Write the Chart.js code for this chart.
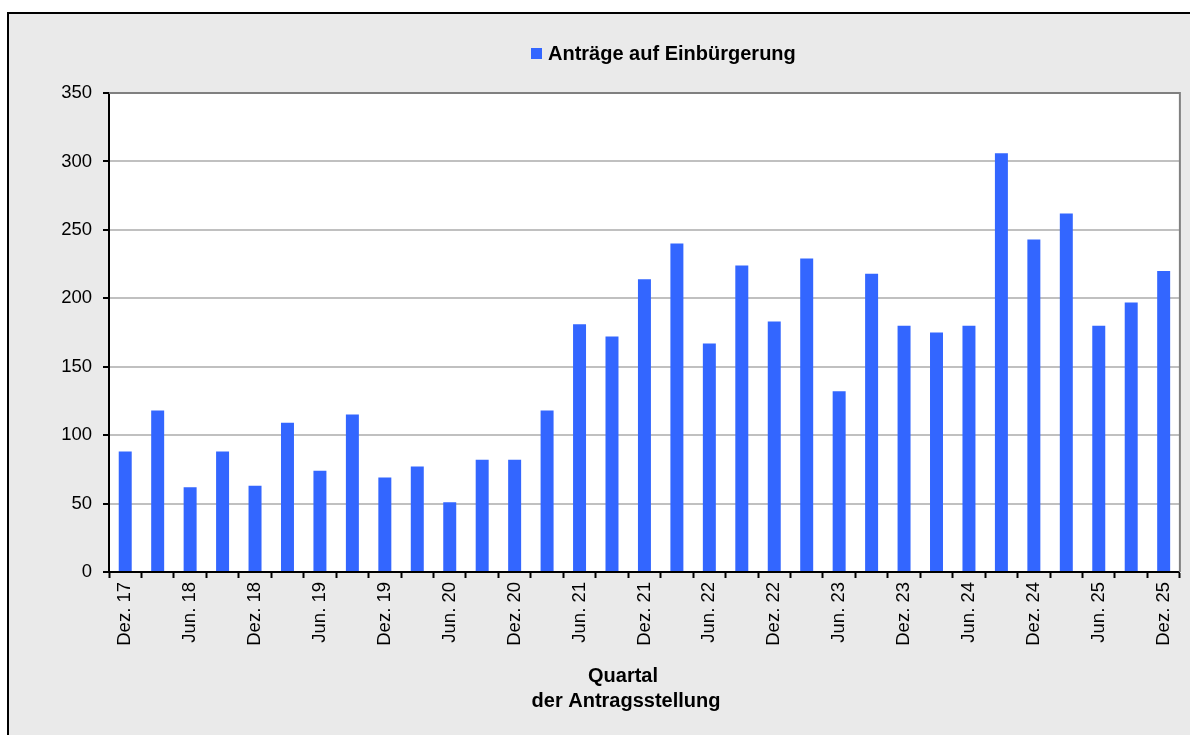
<!DOCTYPE html>
<html>
<head>
<meta charset="utf-8">
<script src="https://cdn.jsdelivr.net/npm/chart.js@4"></script>
<style>
html, body { margin: 0; padding: 0; background: #fff; overflow: hidden; }
#frame { position: absolute; left: 7px; top: 12px; width: 1181px; height: 721px; border: 2px solid #000; background: #eaeaea; }
</style>
</head>
<body>
<div id="frame"><canvas id="chart" width="1181" height="721"></canvas></div>
<script>
var quarters = [
    "Dez. 17", "Mrz. 18", "Jun. 18", "Sep. 18", "Dez. 18", "Mrz. 19", "Jun. 19", "Sep. 19",
    "Dez. 19", "Mrz. 20", "Jun. 20", "Sep. 20", "Dez. 20", "Mrz. 21", "Jun. 21", "Sep. 21",
    "Dez. 21", "Mrz. 22", "Jun. 22", "Sep. 22", "Dez. 22", "Mrz. 23", "Jun. 23", "Sep. 23",
    "Dez. 23", "Mrz. 24", "Jun. 24", "Sep. 24", "Dez. 24", "Mrz. 25", "Jun. 25", "Sep. 25",
    "Dez. 25"
];
var antraege = [
    88, 118, 62, 88, 63, 109, 74, 115,
    69, 77, 51, 82, 82, 118, 181, 172,
    214, 240, 167, 224, 183, 229, 132, 218,
    180, 175, 180, 306, 243, 262, 180, 197,
    220
];
var seriesName = "Anträge auf Einbürgerung";
var axisTitle = ["Quartal", "der Antragsstellung"];
var yTicks = [0, 50, 100, 150, 200, 250, 300, 350];

var barColor = '#3366ff';
var fontFamily = '"Liberation Sans", Arial, sans-serif';

// white plot area, grey frame lines, legend and axis title
var decorations = {
    id: 'decorations',
    beforeDraw: function(chart) {
        var ctx = chart.ctx, a = chart.chartArea;
        ctx.save();
        ctx.fillStyle = '#ffffff';
        ctx.fillRect(a.left, a.top, a.right - a.left, a.bottom - a.top);
        ctx.restore();
    },
    afterDraw: function(chart) {
        var ctx = chart.ctx, a = chart.chartArea;
        ctx.save();
        ctx.strokeStyle = '#808080';
        ctx.lineWidth = 2;
        ctx.beginPath();
        ctx.moveTo(a.left, a.top);
        ctx.lineTo(a.right, a.top);
        ctx.lineTo(a.right, a.bottom);
        ctx.stroke();

        // legend
        ctx.fillStyle = barColor;
        ctx.fillRect(522, 34, 11, 11);
        ctx.fillStyle = '#000';
        ctx.font = 'bold 20px ' + fontFamily;
        ctx.textBaseline = 'middle';
        ctx.textAlign = 'left';
        ctx.fillText(seriesName, 539, 40);

        // x axis title
        ctx.textAlign = 'center';
        ctx.fillText(axisTitle[0], 614, 662);
        ctx.fillText(axisTitle[1], 617, 687);
        ctx.restore();
    }
};

new Chart(document.getElementById('chart').getContext('2d'), {
    type: 'bar',
    data: {
        labels: quarters,
        datasets: [{
            label: seriesName,
            data: antraege,
            backgroundColor: barColor,
            borderWidth: 0,
            barPercentage: 0.4,
            categoryPercentage: 1.0
        }]
    },
    options: {
        responsive: false,
        animation: false,
        layout: { padding: { top: 79, right: 9, left: 0, bottom: 0 } },
        plugins: {
            legend: { display: false },
            tooltip: { enabled: false }
        },
        scales: {
            x: {
                afterFit: function(scale) { scale.height = 163; },
                grid: {
                    drawOnChartArea: false,
                    offset: true,
                    tickColor: '#000',
                    tickLength: 6,
                    tickWidth: 2
                },
                border: { color: '#000', width: 2 },
                ticks: {
                    autoSkip: false,
                    minRotation: 90,
                    maxRotation: 90,
                    padding: 4,
                    color: '#000',
                    font: { family: fontFamily, size: 18.5 },
                    callback: function(value, index) {
                        return index % 2 === 0 ? quarters[index] : '';
                    }
                }
            },
            y: {
                min: yTicks[0],
                max: yTicks[yTicks.length - 1],
                afterFit: function(scale) { scale.width = 100; },
                afterBuildTicks: function(scale) {
                    scale.ticks = yTicks.map(function(v) { return { value: v }; });
                },
                grid: {
                    color: function(c) { return c.tick && c.tick.value === 350 ? '#808080' : '#c0c0c0'; },
                    lineWidth: 2,
                    tickColor: '#000',
                    tickLength: 6,
                    tickWidth: 2
                },
                border: { color: '#000', width: 2 },
                ticks: {
                    padding: 11,
                    color: '#000',
                    font: { family: fontFamily, size: 18.5 }
                }
            }
        }
    },
    plugins: [decorations]
});
</script>
</body>
</html>
